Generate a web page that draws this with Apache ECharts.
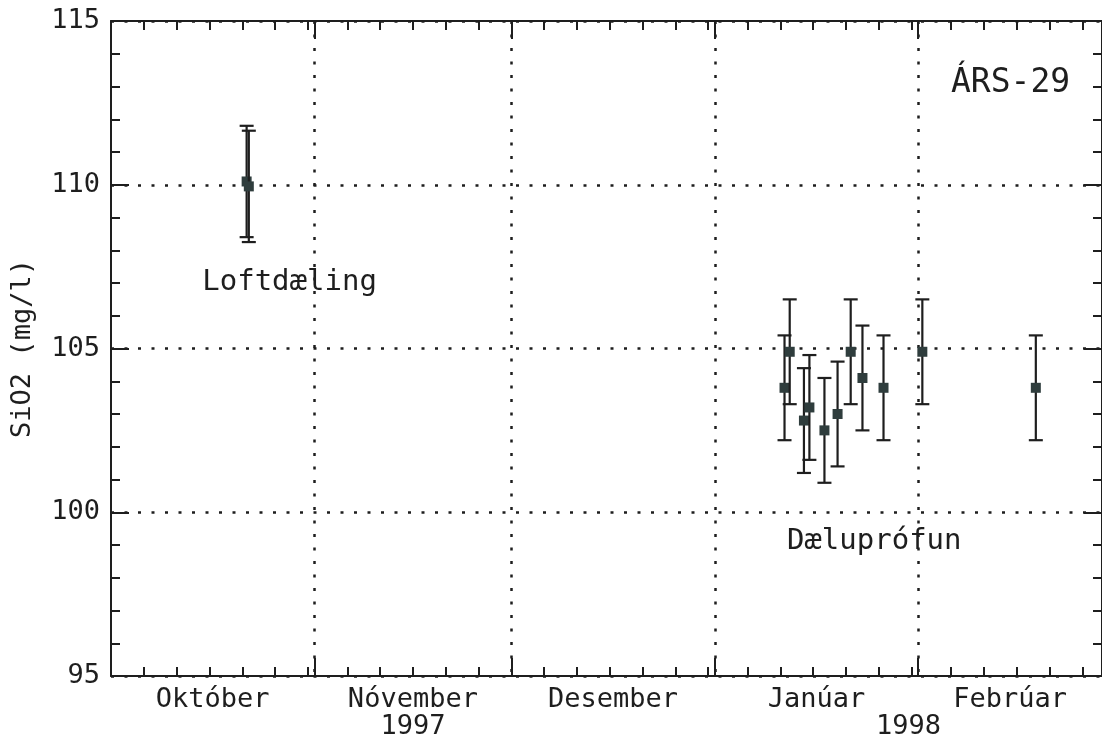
<!DOCTYPE html>
<html>
<head>
<meta charset="utf-8">
<title>ÁRS-29 SiO2</title>
<script src="https://cdn.jsdelivr.net/npm/echarts@6/dist/echarts.min.js"></script>
<style>
  html, body { margin: 0; padding: 0; background: #fff; }
  #chart { width: 1102px; height: 740px; }
</style>
</head>
<body>
<div id="chart"></div>
<script>
;(function () {
  'use strict'

  // samples
  var sampleDates = [
    '1997-10-21 16:00', '1997-10-22 00:00',
    '1998-01-11 15:00', '1998-01-12 10:00', '1998-01-14 14:00', '1998-01-15 10:00',
    '1998-01-17 17:00', '1998-01-19 17:00', '1998-01-21 17:00', '1998-01-23 12:00',
    '1998-01-26 17:00', '1998-02-01 15:00', '1998-02-18 22:00'
  ]
  var silicaValues = [110.1, 109.95, 103.8, 104.9, 102.8, 103.2, 102.5, 103.0, 104.9, 104.1, 103.8, 104.9, 103.8]
  var silicaErr    = [1.7, 1.7, 1.6, 1.6, 1.6, 1.6, 1.6, 1.6, 1.6, 1.6, 1.6, 1.6, 1.6]

  var monthStarts = ['1997-10-01', '1997-11-01', '1997-12-01', '1998-01-01', '1998-02-01', '1998-03-01']
  var monthNames  = ['Október', 'Nóvember', 'Desember', 'Janúar', 'Febrúar']
  var yearMids    = ['1997-11-16', '1998-01-30 12:00']
  var yearNames   = ['1997', '1998']
  var minorTickDays = [6, 11, 16, 21, 26, 31]

  var noteTexts  = ['Loftdæling', 'Dæluprófun']
  var noteDates  = ['1997-10-28 05:00', '1998-01-25 07:00']
  var noteValues = [107.03, 99.1]

  var yTicks = [95, 100, 105, 110, 115]

  var INK = '#1e1e1e'
  var MARK = '#2f3d3d'
  var FONT = 'DejaVu Sans Mono, Liberation Mono, monospace'

  function ts(s) {
    var p = s.split(/[- :]/)
    return new Date(+p[0], +p[1] - 1, +p[2], +(p[3] || 0), +(p[4] || 0)).getTime()
  }

  var xMin = ts(monthStarts[0])
  var xMax = ts(monthStarts[monthStarts.length - 1])
  var majorTicks = monthStarts.slice(1, -1).map(ts)
  var monthMids = []
  var minorTicks = []
  for (var i = 0; i < monthStarts.length - 1; i++) {
    var a = ts(monthStarts[i]), b = ts(monthStarts[i + 1])
    monthMids.push((a + b) / 2)
    var d0 = new Date(a)
    minorTickDays.forEach(function (day) {
      var t = new Date(d0.getFullYear(), d0.getMonth(), day).getTime()
      if (t < b) minorTicks.push(t)
    })
  }
  var yearTicks = yearMids.map(ts)

  var dotted = { color: INK, width: 2.5, type: [3, 10.5], cap: 'butt' }

  // time is kept as plain ms numbers on a value axis; labels come from customValues
  function xAxisBase(pos) {
    return {
      type: 'value', position: pos, min: xMin, max: xMax, gridIndex: 0, scale: true,
      axisLine: { show: false, onZero: false },
      axisTick: { show: false },
      axisLabel: { show: false },
      splitLine: { show: false },
      axisPointer: { show: false }
    }
  }

  function majorAxis(pos, withLabels) {
    var ax = xAxisBase(pos)
    ax.axisLine = { show: true, onZero: false, lineStyle: { color: INK, width: 2 } }
    ax.axisTick = { show: true, inside: true, length: 18, customValues: majorTicks, lineStyle: { color: INK, width: 2 } }
    if (withLabels) {
      ax.splitLine = { show: true, lineStyle: dotted }
      ax.axisLabel = {
        show: true, customValues: monthMids, margin: 10,
        color: INK, fontFamily: FONT, fontSize: 27,
        formatter: function (v) {
          var k = monthMids.indexOf(v)
          return k >= 0 ? monthNames[k] : ''
        }
      }
    }
    return ax
  }

  function minorAxis(pos) {
    var ax = xAxisBase(pos)
    ax.axisTick = { show: true, inside: true, length: 9, customValues: minorTicks, lineStyle: { color: INK, width: 2 } }
    return ax
  }

  var yearAxis = xAxisBase('bottom')
  yearAxis.axisLabel = {
    show: true, customValues: yearTicks, margin: 37,
    color: INK, fontFamily: FONT, fontSize: 27,
    formatter: function (v) {
      var k = yearTicks.indexOf(v)
      return k >= 0 ? yearNames[k] : ''
    }
  }

  function yAxisBase(pos, withLabels) {
    return {
      type: 'value', position: pos, min: yTicks[0], max: yTicks[yTicks.length - 1], interval: 5,
      axisLine: { show: true, lineStyle: { color: INK, width: 2 } },
      axisTick: { show: true, inside: true, length: 18, lineStyle: { color: INK, width: 2 } },
      minorTick: { show: true, splitNumber: 5, length: 9, lineStyle: { color: INK, width: 2 } },
      axisLabel: { show: withLabels, margin: 11, color: INK, fontFamily: FONT, fontSize: 27 },
      splitLine: { show: withLabels, lineStyle: dotted },
      name: withLabels ? 'SiO2 (mg/l)' : '',
      nameLocation: 'middle', nameGap: 75, nameRotate: 90,
      nameTextStyle: { color: INK, fontFamily: FONT, fontSize: 27 },
      axisPointer: { show: false }
    }
  }

  var barData = sampleDates.map(function (d, k) {
    var v = silicaValues[k], e = silicaErr[k]
    return [ts(d), v, v - e, v + e]
  })

  function renderErrorBar(params, api) {
    var t = api.value(0)
    var c = api.coord([t, api.value(1)])
    var lo = api.coord([t, api.value(2)])
    var hi = api.coord([t, api.value(3)])
    var cap = 7, half = 5
    var stroke = { stroke: INK, lineWidth: 2.2 }
    return {
      type: 'group',
      children: [
        { type: 'line', shape: { x1: c[0], y1: hi[1], x2: c[0], y2: lo[1] }, style: stroke },
        { type: 'line', shape: { x1: c[0] - cap, y1: hi[1], x2: c[0] + cap, y2: hi[1] }, style: stroke },
        { type: 'line', shape: { x1: c[0] - cap, y1: lo[1], x2: c[0] + cap, y2: lo[1] }, style: stroke },
        { type: 'rect', shape: { x: c[0] - half, y: c[1] - half, width: half * 2, height: half * 2 }, style: { fill: MARK } }
      ]
    }
  }

  var noteData = noteTexts.map(function (txt, k) {
    return { value: [ts(noteDates[k]), noteValues[k]], name: txt }
  })

  var chart = echarts.init(document.getElementById('chart'), null, { renderer: 'canvas' })
  chart.setOption({
    backgroundColor: '#fff',
    animation: false,
    title: {
      text: 'ÁRS-29', left: 946, top: 62,
      textStyle: { color: INK, fontFamily: FONT, fontSize: 33, fontWeight: 'normal' }
    },
    grid: { left: 111, top: 21, width: 993, height: 660, containLabel: false },
    xAxis: [
      majorAxis('bottom', true),
      minorAxis('bottom'),
      yearAxis,
      majorAxis('top', false),
      minorAxis('top')
    ],
    yAxis: [yAxisBase('left', true), yAxisBase('right', false)],
    series: [
      {
        type: 'custom', name: 'SiO2', xAxisIndex: 0, yAxisIndex: 0,
        renderItem: renderErrorBar, data: barData,
        encode: { x: 0, y: [1, 2, 3] }, clip: false, z: 5
      },
      {
        type: 'scatter', xAxisIndex: 0, yAxisIndex: 0, symbolSize: 1,
        itemStyle: { color: 'rgba(0,0,0,0)', opacity: 1 }, data: noteData, silent: true,
        label: {
          show: true, position: 'inside', formatter: '{b}',
          color: INK, opacity: 1, fontFamily: FONT, fontSize: 29
        }
      }
    ]
  })
})()
</script>
</body>
</html>
